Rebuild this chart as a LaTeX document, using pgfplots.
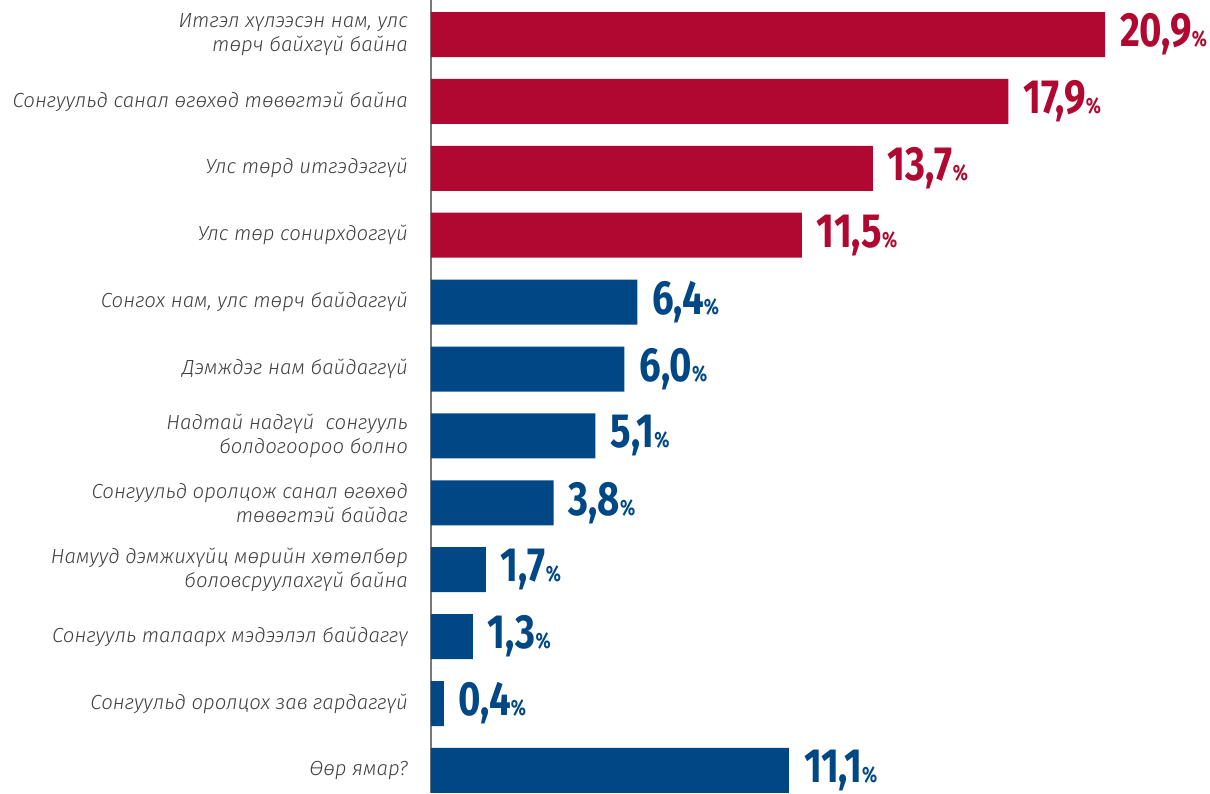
\documentclass[border=0pt]{standalone}
\usepackage{fontspec}
\setmainfont{Fira Sans}
\newfontfamily\lblfont{Fira Sans Light}[ItalicFont={Fira Sans Light Italic}]
\newfontfamily\valfont{Fira Sans}[FakeStretch=0.8]
\usepackage{pgfplots}
\pgfplotsset{compat=1.18}
\usepackage{pgfplotstable}
\definecolor{redc}{RGB}{176,8,48}
\definecolor{bluec}{RGB}{0,71,133}
\definecolor{lblgray}{RGB}{64,64,64}
\definecolor{axgray}{RGB}{120,120,120}

\pgfplotstableread{
idx val
0 20.9
1 17.9
2 13.7
3 11.5
}\redtab
\pgfplotstableread{
idx val
4 6.4
5 6.0
6 5.1
7 3.8
8 1.7
9 1.3
10 0.4
11 11.1
}\bluetab

\begin{document}
\begin{tikzpicture}
\begin{axis}[
    x=16.125pt, y=33.45pt,
    y dir=reverse,
    xmin=0, xmax=24.15,
    ymin=-0.516, ymax=11.34,
    axis x line=none,
    axis y line=left,
    axis line style={-, axgray, line width=1pt},
    major tick length=0pt,
    ytick={0,...,11},
    yticklabels={
        {Итгэл хүлээсэн нам, улс\\төрч байхгүй байна},
        {Сонгуульд санал өгөхөд төвөгтэй байна},
        {Улс төрд итгэдэггүй},
        {Улс төр сонирхдоггүй},
        {Сонгох нам, улс төрч байдаггүй},
        {Дэмждэг нам байдаггүй},
        {Надтай надгүй\ \ сонгууль\\болдогоороо болно},
        {Сонгуульд оролцож санал өгөхөд\\төвөгтэй байдаг},
        {Намууд дэмжихүйц мөрийн хөтөлбөр\\боловсруулахгүй байна},
        {Сонгууль талаарх мэдээлэл байдаггү},
        {Сонгуульд оролцох зав гардаггүй},
        {Өөр ямар?}},
    yticklabel style={font=\lblfont\itshape\fontsize{10.2}{12}\selectfont,
        align=right, text=lblgray, xshift=-8pt},
    clip=false,
    point meta=x,
    nodes near coords={\valfont\bfseries\fontsize{24}{24}\selectfont\pgfmathprintnumber[fixed,fixed zerofill,precision=1,use comma,assume math mode=true]{\pgfplotspointmeta}{\fontsize{11}{11}\selectfont\%}},
    every node near coord/.append style={anchor=west, xshift=4pt, yshift=0pt},
]
\addplot[xbar, fill=redc, draw=none, bar width=22.5pt, bar shift=0pt,
    every node near coord/.append style={text=redc}] table[x=val, y=idx]{\redtab};
\addplot[xbar, fill=bluec, draw=none, bar width=22.5pt, bar shift=0pt,
    every node near coord/.append style={text=bluec}] table[x=val, y=idx]{\bluetab};
\coordinate (bl) at (axis cs:-13.364,11.34);
\coordinate (tr) at (axis cs:24.155,-0.516);
\end{axis}
\pgfresetboundingbox
\path[use as bounding box] (bl) rectangle (tr);
\end{tikzpicture}
\end{document}
